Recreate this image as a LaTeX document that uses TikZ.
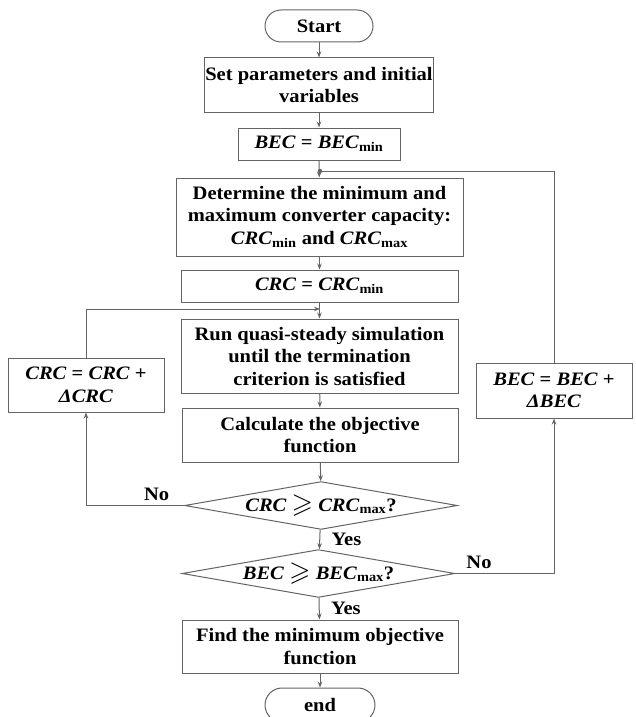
\documentclass[tikz,border=0pt]{standalone}
\usepackage{fontspec}
\usepackage{amssymb}
\setmainfont[FakeStretch=1.08]{Liberation Serif}
\usetikzlibrary{shapes.geometric,arrows.meta}
\definecolor{linegray}{RGB}{100,100,100}
\newcommand{\geqsl}{\raisebox{-1pt}{\scalebox{1.45}{$\geqslant$}}}
\tikzset{
  font={\fontsize{19pt}{22.5pt}\selectfont\bfseries},
  box/.style={draw=linegray, line width=1pt, rectangle, align=center, inner sep=1pt},
  decision/.style={draw=linegray, line width=1pt, diamond, aspect=5.7, inner sep=0pt},
  line/.style={draw=linegray, line width=1pt},
  arrow/.style={line, -{Stealth[length=6pt,width=4.5pt]}}}

\begin{document}
\begin{tikzpicture}[x=1pt,y=-1pt]
%% page size as the reference
    \useasboundingbox (0,0) rectangle (636,717);
%% main column
    \node[box, minimum width=108pt, minimum height=32pt, rounded corners=16pt] (start) at (319,26) {Start};
    \node[box, minimum width=162pt, minimum height=54pt] (setpar) at (319,85) {Set parameters and initial\\variables};
    \node[box, minimum width=162pt, minimum height=32pt] (becmin) at (319,144) {\textit{BEC} = \textit{BEC}\textsubscript{min}};
    \node[box, minimum width=287pt, minimum height=78pt] (determine) at (319.5,217) {Determine the minimum and\\maximum converter capacity:\\\textit{CRC}\textsubscript{min} and \textit{CRC}\textsubscript{max}};
    \node[box, minimum width=277pt, minimum height=32pt] (crcmin) at (319.5,286) {\textit{CRC} = \textit{CRC}\textsubscript{min}};
    \node[box, minimum width=277pt, minimum height=74pt] (run) at (319.5,356) {Run quasi-steady simulation\\until the termination\\criterion is satisfied};
    \node[box, minimum width=276pt, minimum height=54pt] (calc) at (320,435) {Calculate the objective\\function};
    \node[decision, minimum width=268pt, minimum height=47pt] (crcdec) at (321,505.5) {\textit{CRC} \geqsl{} \textit{CRC}\textsubscript{max}?};
    \node[decision, minimum width=267pt, minimum height=47pt] (becdec) at (318.5,573.5) {\textit{BEC} \geqsl{} \textit{BEC}\textsubscript{max}?};
    \node[box, minimum width=276pt, minimum height=53pt] (find) at (320,646.5) {Find the minimum objective\\function};
    \node[box, minimum width=110pt, minimum height=34pt, rounded corners=17pt] (end) at (320,705) {end};
%% loop boxes
    \node[box, minimum width=156pt, minimum height=54pt] (crcinc) at (86,385) {\textit{CRC} = \textit{CRC} +\\\textit{ΔCRC}};
    \node[box, minimum width=156pt, minimum height=55pt] (becinc) at (554,390.5) {\textit{BEC} = \textit{BEC} +\\\textit{ΔBEC}};
%% join points
    \coordinate (bjoin) at (320,171);
    \coordinate (cjoin) at (320,309);
    \fill[linegray] (bjoin) circle (2.2pt);
%% straight arrows
    \draw[arrow] (start) -- (setpar);
    \draw[arrow] (setpar) -- (becmin);
    \draw[arrow] (becmin) -- (determine);
    \draw[arrow] (determine) -- (crcmin);
    \draw[arrow] (crcmin) -- (run);
    \draw[arrow] (run) -- (calc);
    \draw[arrow] (calc) -- (crcdec);
    \draw[arrow] (crcdec) -- (becdec) node[midway, right=8pt] {Yes};
    \draw[arrow] (becdec) -- (find) node[midway, right=8pt] {Yes};
    \draw[arrow] (find) -- (end);
%% inner loop
    \draw[arrow] (crcdec.west) -| (crcinc.south) node[pos=0.14, above=1pt] {No};
    \draw[arrow] (crcinc.north) |- (cjoin);
%% outer loop
    \draw[arrow] (becdec.east) -| (becinc.south) node[pos=0.12, above=1pt] {No};
    \draw[line] (becinc.north) |- (bjoin);
\end{tikzpicture}
\end{document}
